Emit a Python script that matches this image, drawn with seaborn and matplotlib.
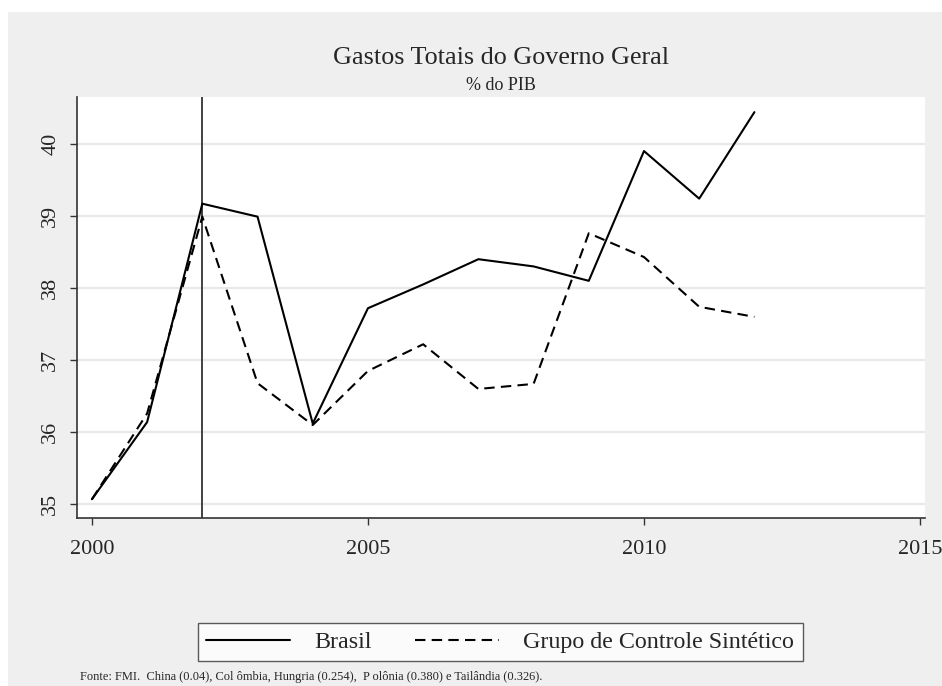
import numpy as np
import pandas as pd
import matplotlib
matplotlib.use("Agg")
import matplotlib.pyplot as plt
import seaborn as sns
from matplotlib.patches import Rectangle
from matplotlib.lines import Line2D

# ---- data ----
anos = [2000, 2001, 2002, 2003, 2004, 2005, 2006, 2007, 2008, 2009, 2010, 2011, 2012]
brasil = [35.07, 36.14, 39.17, 38.99, 36.12, 37.72, 38.05, 38.40, 38.30, 38.10, 39.90, 39.24, 40.44]
sintetico = [35.07, 36.26, 38.99, 36.68, 36.10, 36.85, 37.22, 36.60, 36.67, 38.76, 38.43, 37.74, 37.60]
series_names = ["Brasil", "Grupo de Controle Sintético"]
x_ticks = [2000, 2005, 2010, 2015]
y_ticks = [35, 36, 37, 38, 39, 40]
intervencao = 2002

titulo = "Gastos Totais do Governo Geral"
subtitulo = "% do PIB"
nota = "Fonte: FMI.  China (0.04), Col ômbia, Hungria (0.254),  P olônia (0.380) e Tailândia (0.326)."

df = pd.DataFrame({
    "ano": anos * 2,
    "valor": brasil + sintetico,
    "serie": [series_names[0]] * len(anos) + [series_names[1]] * len(anos),
})

sns.set_theme(style="white")
plt.rcParams["font.family"] = ["Liberation Serif", "DejaVu Serif"]

bg = "#efefef"
fig = plt.figure(figsize=(9.42, 6.86), dpi=100, facecolor="white")
rect = Rectangle((8 / 942, 0), 1 - 8 / 942, 1 - 12 / 686,
                 transform=fig.transFigure, facecolor=bg,
                 edgecolor="none", zorder=-10)
fig.add_artist(rect)

ax = fig.add_axes([77 / 942, 1 - 518 / 686, (925 - 77) / 942, (518 - 97) / 686])
ax.set_zorder(1)
ax.set_facecolor("white")

for y in y_ticks:
    ax.axhline(y, color="#e8e8e8", lw=1.6, zorder=0)

sns.lineplot(data=df, x="ano", y="valor", style="serie", color="black",
             dashes={series_names[0]: "", series_names[1]: (5, 3)},
             linewidth=1.5, ax=ax, legend=False, zorder=3)

ax.axvline(intervencao, color="#333333", lw=1.3, zorder=2)

ax.set_xlim(1999.73, 2015.09)
ax.set_ylim(34.81, 40.65)
ax.set_xticks(x_ticks)
ax.set_yticks(y_ticks)
ax.set_xticklabels([str(t) for t in x_ticks], fontsize=16)
ax.set_yticklabels([str(t) for t in y_ticks], fontsize=16, rotation=90, va="center")
ax.tick_params(axis="both", which="both", direction="out", length=5, width=1,
               color="#333333", bottom=True, left=True)
ax.tick_params(axis="x", pad=11)
ax.tick_params(axis="y", pad=7)
ax.set_xlabel("")
ax.set_ylabel("")
for s in ["top", "right"]:
    ax.spines[s].set_visible(False)
for s in ["left", "bottom"]:
    ax.spines[s].set_color("#333333")
    ax.spines[s].set_linewidth(1.2)
ax.grid(False)

fig.text(0.532, 1 - 58 / 686, titulo, ha="center", va="center", fontsize=18.8)
fig.text(0.532, 1 - 85 / 686, subtitulo, ha="center", va="center", fontsize=13)

handles = [Line2D([], [], color="black", lw=1.5),
           Line2D([], [], color="black", lw=1.5, dashes=(5, 3))]
leg = fig.legend(handles, series_names, loc="center", bbox_to_anchor=(0.531, 1 - 642 / 686),
                 ncol=2, fontsize=17.3, frameon=True, fancybox=False,
                 handlelength=3.5, columnspacing=1.8, handletextpad=1.0,
                 borderpad=0.35, borderaxespad=0)
leg.get_frame().set_edgecolor("#333333")
leg.get_frame().set_facecolor("white")
leg.get_frame().set_linewidth(1.0)

fig.text(80 / 942, 1 - 677 / 686, nota, ha="left", va="center", fontsize=8.9)

fig.savefig("out.png", dpi=100, facecolor=fig.get_facecolor())
